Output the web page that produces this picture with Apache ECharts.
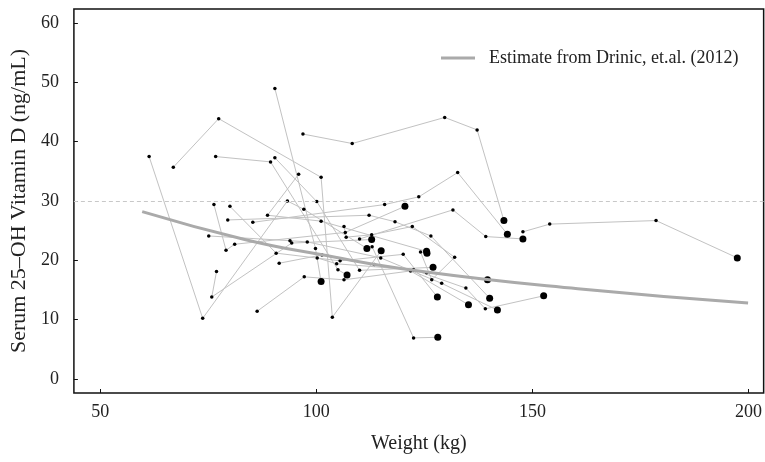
<!DOCTYPE html>
<html>
<head>
<meta charset="utf-8">
<script src="https://cdn.jsdelivr.net/npm/echarts@6.0.0/dist/echarts.min.js"></script>
<style>
  html, body { margin: 0; padding: 0; background: #fff; }
  #main { width: 765px; height: 462px; }
</style>
</head>
<body>
<div id="main"></div>
<script>
// each subject: [weight kg, vitamin D ng/mL] per visit, last visit drawn bigger
var subj1 = [[96.9, 41.3], [108.3, 39.7], [129.7, 44.1], [137.2, 42.0], [143.4, 26.7]]
var subj2 = [[66.9, 35.7], [77.4, 43.9], [101.1, 34.0], [103.7, 10.4], [115.0, 21.6]]
var subj3 = [[61.3, 37.5], [73.7, 10.2], [93.3, 30.0], [97.1, 28.6], [111.7, 22.0]]
var subj4 = [[76.9, 18.1], [75.8, 13.8], [94.3, 22.9], [112.8, 23.5]]
var subj5 = [[76.3, 29.4], [79.1, 21.7], [81.1, 22.7], [106.7, 24.7], [120.5, 29.1]]
var subj6 = [[76.7, 37.5], [89.4, 36.6], [105.0, 18.4], [107.1, 17.5]]
var subj7 = [[90.4, 49.0], [99.8, 22.0], [101.1, 16.4]]
var subj8 = [[90.4, 37.3], [100.1, 29.9], [110.0, 18.3], [127.0, 18.8]]
var subj9 = [[85.3, 26.4], [115.8, 29.4], [123.7, 30.7], [132.7, 34.8], [144.2, 24.4]]
var subj10 = [[95.9, 34.5], [88.7, 27.6], [101.1, 26.6], [125.5, 21.5]]
var subj11 = [[110.0, 23.6], [131.6, 28.5], [139.2, 24.0], [147.8, 23.6]]
var subj12 = [[147.8, 24.8], [154.0, 26.1], [178.6, 26.7], [197.4, 20.4]]
var subj13 = [[112.9, 22.3], [122.5, 6.9], [128.1, 7.0]]
var subj14 = [[75.1, 24.1], [93.9, 23.3], [97.9, 23.1], [114.9, 20.4], [129.0, 16.1], [141.9, 11.6]]
var subj15 = [[80.0, 29.1], [90.7, 21.2], [105.5, 19.9], [120.1, 21.0], [128.0, 13.8]]
var subj16 = [[79.5, 26.8], [112.2, 27.6], [118.2, 26.5], [126.5, 24.1], [140.1, 13.6]]
var subj17 = [[86.3, 11.4], [97.2, 17.2], [106.4, 16.7], [121.8, 18.2], [135.2, 12.5]]
var subj18 = [[91.4, 19.5], [101.3, 20.9], [113.4, 19.3], [125.5, 17.9], [139.6, 16.7]]
var subj19 = [[100.2, 20.4], [104.7, 19.4], [122.5, 18.4], [134.6, 15.3], [139.1, 11.8], [152.6, 14.0]]
var subj20 = [[106.4, 25.7], [106.9, 23.9], [112.8, 24.3], [122.2, 25.7], [132.0, 20.5], [126.7, 16.7], [124.1, 21.4], [125.6, 21.2]]

var subjects = [subj1, subj2, subj3, subj4, subj5, subj6, subj7, subj8, subj9, subj10,
  subj11, subj12, subj13, subj14, subj15, subj16, subj17, subj18, subj19, subj20]

// Drinic et al. (2012) estimate
var drinicWeight = [59.7, 83.4, 100.7, 123.7, 160.5, 199.9]
var drinicVitD = [28.2, 23.5, 21.0, 18.2, 15.2, 12.8]

var xTicks = [50, 100, 150, 200]
var yTicks = [0, 10, 20, 30, 40, 50, 60]
var sufficiency = 30

var serif = '"Liberation Serif", "DejaVu Serif", serif'
var chart = echarts.init(document.getElementById('main'))

var series = []
subjects.forEach(function (s, i) {
  series.push({
    type: 'line',
    data: s,
    symbol: 'circle',
    symbolSize: function (v, p) {
      return p.dataIndex === s.length - 1 ? 7 : 3.5
    },
    showSymbol: true,
    lineStyle: { color: '#c2c2c2', width: 1 },
    itemStyle: { color: '#000' },
    silent: true,
    z: 3
  })
})

// dashed reference line + estimate curve
series.push({
  name: 'Estimate from Drinic, et.al. (2012)',
  type: 'line',
  data: drinicWeight.map(function (w, i) { return [w, drinicVitD[i]] }),
  smooth: true,
  showSymbol: false,
  lineStyle: { color: '#aaaaaa', width: 3 },
  itemStyle: { color: '#aaaaaa' },
  z: 4,
  markLine: {
    silent: true,
    symbol: 'none',
    label: { show: false },
    lineStyle: { color: '#c8c8c8', type: [4, 3], width: 1 },
    data: [{ yAxis: sufficiency }]
  }
})

chart.setOption({
  animation: false,
  backgroundColor: '#fff',
  textStyle: { fontFamily: serif },
  grid: {
    left: 73, right: -1, top: 9, bottom: 69,
    show: true, borderColor: '#111', borderWidth: 1.5, backgroundColor: 'transparent'
  },
  legend: {
    data: ['Estimate from Drinic, et.al. (2012)'],
    left: 436, top: 44,
    icon: 'rect', itemWidth: 34, itemHeight: 3, itemGap: 14,
    textStyle: { fontFamily: serif, fontSize: 18, color: '#222', padding: [0, 0, 0, 9] }
  },
  xAxis: {
    type: 'value', min: 43.9, max: 203.5,
    name: 'Weight (kg)', nameLocation: 'middle', nameGap: 41,
    nameTextStyle: { fontFamily: serif, fontSize: 20, color: '#222' },
    axisLine: { show: false, onZero: false },
    splitLine: { show: false },
    axisTick: { show: true, inside: true, length: 4, customValues: xTicks, lineStyle: { color: '#111' } },
    axisLabel: { customValues: xTicks, margin: 10, fontFamily: serif, fontSize: 18, color: '#222' }
  },
  yAxis: {
    type: 'value', min: -2.4, max: 62.4,
    name: 'Serum 25\u2013OH Vitamin D (ng/mL)', nameLocation: 'middle', nameGap: 42,
    nameTextStyle: { fontFamily: serif, fontSize: 22, color: '#222' },
    axisLine: { show: false, onZero: false },
    splitLine: { show: false },
    axisTick: { show: true, inside: true, length: 4, customValues: yTicks, lineStyle: { color: '#111' } },
    axisLabel: { customValues: yTicks, margin: 15, fontFamily: serif, fontSize: 18, color: '#222' }
  },
  series: series
})
</script>
</body>
</html>
